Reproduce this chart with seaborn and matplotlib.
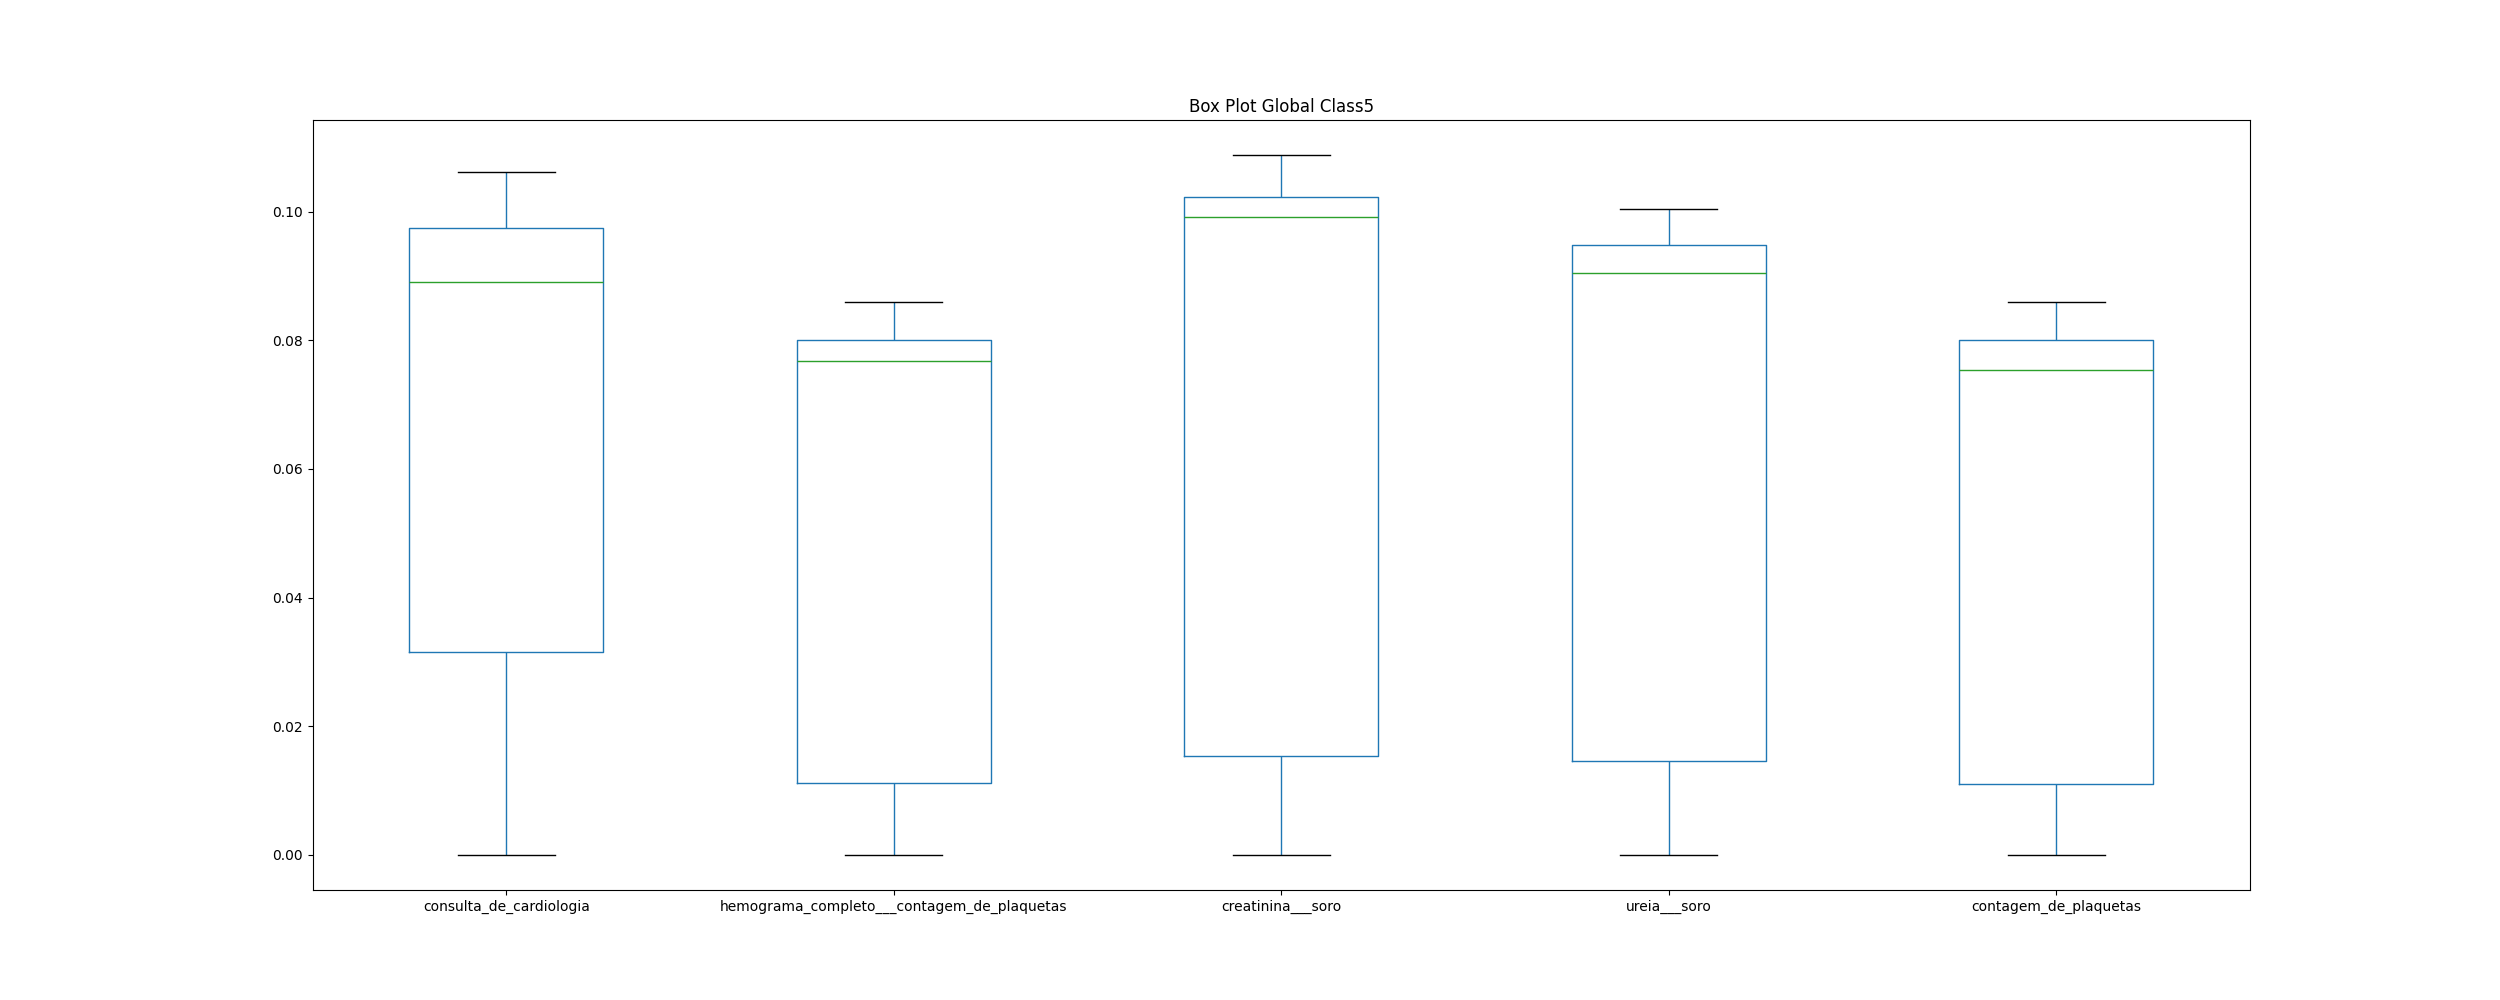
import pandas as pd
import matplotlib
matplotlib.use('Agg')
import matplotlib.pyplot as plt
import seaborn as sns

# exames e os cinco valores de cada caixa (min, Q1, mediana, Q3, max)
exames = ['consulta_de_cardiologia',
          'hemograma_completo___contagem_de_plaquetas',
          'creatinina___soro',
          'ureia___soro',
          'contagem_de_plaquetas']

consulta = [0.0, 0.0316, 0.0891, 0.0975, 0.1061]
hemograma = [0.0, 0.0112, 0.0768, 0.0800, 0.0859]
creatinina = [0.0, 0.0154, 0.0991, 0.1023, 0.1088]
ureia = [0.0, 0.0146, 0.0905, 0.0948, 0.1004]
plaquetas = [0.0, 0.0110, 0.0754, 0.0800, 0.0859]

df = pd.DataFrame(dict(zip(exames, [consulta, hemograma, creatinina, ureia, plaquetas])))

azul = '#1f77b4'

fig, ax = plt.subplots(figsize=(25, 10), dpi=100)
sns.boxplot(data=df, ax=ax, width=0.5, fill=False, color=azul, linewidth=1,
            whis=1.5, saturation=1,
            boxprops=dict(color=azul),
            whiskerprops=dict(color=azul),
            capprops=dict(color='black'),
            medianprops=dict(color='#2ca02c'))

ax.set_title('Box Plot Global Class5')
ax.set_xlabel('')
ax.set_ylabel('')

plt.savefig('out.png')
